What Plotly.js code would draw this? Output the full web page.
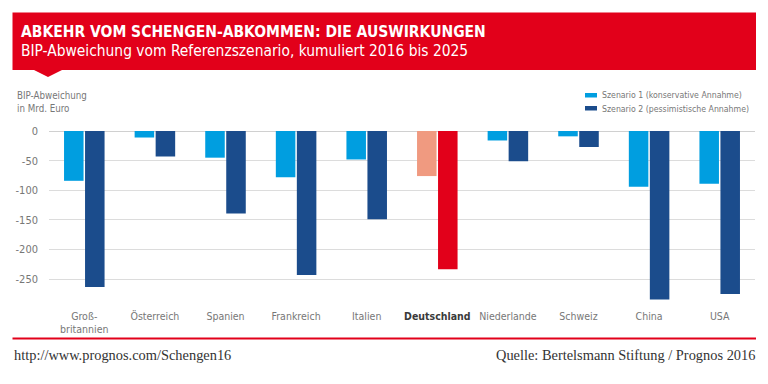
<!DOCTYPE html>
<html>
<head>
<meta charset="utf-8">
<script src="https://cdn.plot.ly/plotly-3.0.1.min.js"></script>
<style>html,body{margin:0;padding:0;background:#fff;}#chart{width:768px;height:384px;}</style>
</head>
<body>
<div id="chart"></div>
<script>
const categories = ['Großbritannien','Österreich','Spanien','Frankreich','Italien','Deutschland','Niederlande','Schweiz','China','USA'];
const tickLabels = ['Groß-<br>britannien','Österreich','Spanien','Frankreich','Italien','<b><span style="color:#3a3a3a">Deutschland</span></b>','Niederlande','Schweiz','China','USA'];
const scenario1 = [-84,-11,-45,-78,-48,-76,-16,-9,-94,-89];
const scenario2 = [-263,-43,-139,-243,-149,-233,-51,-27,-284,-275];
const seriesNames = ['Szenario 1 (konservative Annahme)','Szenario 2 (pessimistische Annahme)'];
const yTickVals = [0,-50,-100,-150,-200,-250];
const yTickText = ['0','-50','-100','-150','-200','-250'];
const highlight = 'Deutschland';

const C1 = '#009ee0', C2 = '#1b4c8c', H1 = '#f09a80', H2 = '#e2001a';
const RED = '#e2001a';
const SANS = '"Liberation Sans Narrow","DejaVu Sans Condensed","Roboto Condensed","Arial Narrow",sans-serif';
const SERIF = '"Liberation Serif","DejaVu Serif",serif';

const W = 768, H = 384, ML = 49, MR = 13, MT = 131, MB = 84;
const PW = W - ML - MR, PH = H - MT - MB;
const px = x => (x - ML) / PW;
const py = y => (H - MB - y) / PH;

const seriesColors = [C1, C2];
const traces = [
  {type:'bar', name:seriesNames[0], x:categories, y:scenario1,
   marker:{color:categories.map(c => c === highlight ? H1 : C1)}, hoverinfo:'x+y'},
  {type:'bar', name:seriesNames[1], x:categories, y:scenario2,
   marker:{color:categories.map(c => c === highlight ? H2 : C2)}, hoverinfo:'x+y'}
];

// custom legend (keys + labels)
const legendShapes = seriesNames.map((n, i) => ({
  type:'rect', xref:'paper', yref:'paper', x0:px(585), x1:px(597), y0:py(93 + 13*i), y1:py(97.5 + 13*i),
  fillcolor:seriesColors[i], line:{width:0}
}));
const legendTexts = seriesNames.map((n, i) => ({
  xref:'paper', yref:'paper', x:px(600), y:py(95.5 + 13*i), xanchor:'left', yanchor:'middle', showarrow:false,
  text:n, font:{family:SANS, size:8.7, color:'#777'}
}));

const layout = {
  width:W, height:H,
  margin:{l:ML, r:MR, t:MT, b:MB, pad:0},
  paper_bgcolor:'#fff', plot_bgcolor:'#fff',
  barmode:'group', bargap:0.405, bargroupgap:0.07,
  font:{family:SANS, size:11, color:'#777'},
  xaxis:{type:'category', tickvals:categories, ticktext:tickLabels, tickangle:0, automargin:false, showgrid:false, zeroline:false,
         showline:false, ticks:'', ticklabelstandoff:8, tickfont:{family:SANS, size:10.5, color:'#777'}},
  yaxis:{range:[-285,0], tickvals:yTickVals, ticktext:yTickText, automargin:false, showgrid:true, gridcolor:'#dcdcdc', gridwidth:1,
         zeroline:true, zerolinecolor:'#d0d0d0', zerolinewidth:1, showline:false, ticks:'',
         ticklabelstandoff:10, tickfont:{family:SANS, size:11, color:'#777'}},
  showlegend:false,
  shapes:[
    {type:'rect', xref:'paper', yref:'paper', x0:px(12.5), x1:px(756), y0:py(12.5), y1:py(70), fillcolor:RED, line:{width:0}, layer:'above'},
    {type:'path', xref:'paper', yref:'paper', path:`M ${px(33)} ${py(69.5)} L ${px(63)} ${py(69.5)} L ${px(48)} ${py(77)} Z`, fillcolor:RED, line:{width:0}},
    {type:'line', xref:'paper', yref:'paper', x0:px(12.5), x1:px(756), y0:py(338.5), y1:py(338.5), line:{color:RED, width:2}}
  ].concat(legendShapes),
  annotations:[
    {xref:'paper', yref:'paper', x:px(19), y:py(32), xanchor:'left', yanchor:'middle', showarrow:false,
     text:'<b>ABKEHR VOM SCHENGEN-ABKOMMEN: DIE AUSWIRKUNGEN</b>', font:{family:SANS, size:15.5, color:'#fff'}},
    {xref:'paper', yref:'paper', x:px(19), y:py(51), xanchor:'left', yanchor:'middle', showarrow:false,
     text:'BIP-Abweichung vom Referenzszenario, kumuliert 2016 bis 2025', font:{family:SANS, size:15.4, color:'#fff'}},
    {xref:'paper', yref:'paper', x:px(15), y:py(102), xanchor:'left', yanchor:'middle', align:'left', showarrow:false,
     text:'BIP-Abweichung<br>in Mrd. Euro', font:{family:SANS, size:9.7, color:'#777'}},
    {xref:'paper', yref:'paper', x:px(12), y:py(355), xanchor:'left', yanchor:'middle', showarrow:false,
     text:'http://www.prognos.com/Schengen16', font:{family:SERIF, size:14.4, color:'#333'}},
    {xref:'paper', yref:'paper', x:px(757), y:py(355), xanchor:'right', yanchor:'middle', showarrow:false,
     text:'Quelle: Bertelsmann Stiftung / Prognos 2016', font:{family:SERIF, size:14.4, color:'#333'}}
  ].concat(legendTexts)
};

function draw() { Plotly.newPlot('chart', traces, layout, {displayModeBar:false, staticPlot:true}); }
if (document.fonts && document.fonts.load) {
  Promise.all([
    document.fonts.load('14px "Liberation Serif"'),
    document.fonts.load('11px "DejaVu Sans Condensed"'),
    document.fonts.load('bold 11px "DejaVu Sans Condensed"'),
    document.fonts.load('11px "Liberation Sans Narrow"')
  ]).then(draw, draw);
} else { draw(); }
</script>
</body>
</html>
